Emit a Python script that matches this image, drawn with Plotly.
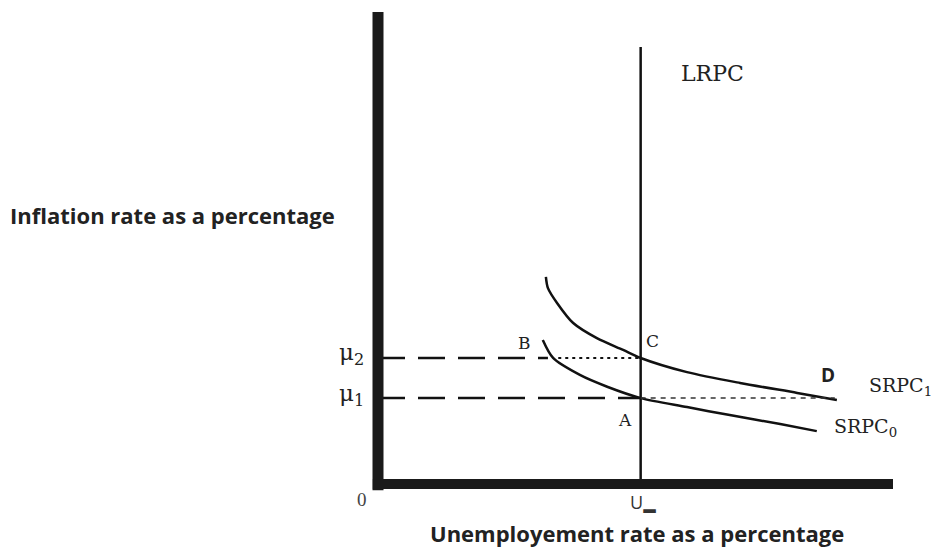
import plotly.graph_objects as go

# ---- data (diagram units: x, y in 0..100) ----
u_star = 51.0
mu1 = 18.2
mu2 = 26.7
lrpc_top = 92.6

srpc1_x = [32.6, 33.0, 34.8, 37.9, 42.5, 47.6, 51.0, 60.0, 70.3, 81.4, 89.1]
srpc1_y = [43.9, 41.5, 38.3, 34.1, 30.9, 28.4, 26.7, 23.7, 21.4, 19.3, 17.8]

srpc0_x = [32.0, 34.0, 39.2, 44.5, 51.0, 60.0, 68.3, 78.1, 85.2]
srpc0_y = [30.5, 26.7, 23.1, 20.6, 18.2, 16.3, 14.6, 12.7, 11.2]

mu2_dash_end = 33.0
mu2_dot_start = 35.0
mu1_dot_end = 88.7

L, R, T, B = 378, 44, 12, 64
W, H = 937, 548
PW, PH = W - L - R, H - T - B

def px(xp):
    return (xp - L) / PW

def py(yp):
    return (H - B - yp) / PH

fig = go.Figure()
black = "#111111"

# LRPC
fig.add_trace(go.Scatter(x=[u_star, u_star], y=[0, lrpc_top], mode="lines",
                         line=dict(color=black, width=2.5), hoverinfo="skip"))
# SRPC curves
fig.add_trace(go.Scatter(x=srpc1_x, y=srpc1_y, mode="lines", line_shape="spline",
                         line=dict(color=black, width=2.5, smoothing=0.8), hoverinfo="skip"))
fig.add_trace(go.Scatter(x=srpc0_x, y=srpc0_y, mode="lines", line_shape="spline",
                         line=dict(color=black, width=2.5, smoothing=0.8), hoverinfo="skip"))
# dashed guide lines
fig.add_trace(go.Scatter(x=[0, mu2_dash_end], y=[mu2, mu2], mode="lines",
                         line=dict(color=black, width=2.5, dash="27px,13px"), hoverinfo="skip"))
fig.add_trace(go.Scatter(x=[0, u_star], y=[mu1, mu1], mode="lines",
                         line=dict(color=black, width=2.5, dash="27px,13px"), hoverinfo="skip"))
# dotted guide lines
fig.add_trace(go.Scatter(x=[mu2_dot_start, u_star], y=[mu2, mu2], mode="lines",
                         line=dict(color=black, width=2, dash="3px,4px"), hoverinfo="skip"))
fig.add_trace(go.Scatter(x=[u_star, mu1_dot_end], y=[mu1, mu1], mode="lines",
                         line=dict(color="#333333", width=1.5, dash="5px,5px"), hoverinfo="skip"))

# thick axes
fig.add_shape(type="line", xref="paper", yref="paper", x0=0, x1=0, y0=-0.013, y1=1,
              line=dict(color="#1a1a1a", width=11))
fig.add_shape(type="line", xref="paper", yref="paper", x0=-0.01, x1=1, y0=0, y1=0,
              line=dict(color="#1a1a1a", width=10))

serif = "DejaVu Serif"
sans = "Open Sans"

def ann(x, y, text, size, family=serif, xanchor="center", yanchor="middle", color="#222222",
        ref="data"):
    kw = {}
    if ref == "paper":
        kw = dict(xref="paper", yref="paper")
    fig.add_annotation(x=x, y=y, text=text, showarrow=False, xanchor=xanchor, yanchor=yanchor,
                       font=dict(family=family, size=size, color=color), **kw)

ann(px(366), py(354), "μ<sub>2</sub>", 23, xanchor="right", ref="paper")
ann(px(366), py(395), "μ<sub>1</sub>", 23, xanchor="right", ref="paper")
ann(px(362), py(500), "0", 19, family="Liberation Serif", color="#444444", ref="paper")
ann(px(643), py(504), "U<sub>▬</sub>", 18, family=sans, color="#333333", ref="paper")
ann(64.9, 86.9, "LRPC", 22)
ann(53.3, 30.3, "C", 17)
ann(48.0, 13.6, "A", 17)
ann(28.5, 29.9, "B", 17)
ann(87.4, 23.1, "<b>D</b>", 19, family=sans, color="#222222")
ann(95.0, 20.6, "SRPC<sub>1</sub>", 19, xanchor="left")
ann(88.2, 12.0, "SRPC<sub>0</sub>", 19, xanchor="left")

ann(px(637), py(533), "<b>Unemployement rate as a percentage</b>", 22, family=sans, ref="paper")
ann(px(172), py(215), "<b>Inflation rate as a percentage</b>", 22, family=sans, ref="paper")

fig.update_layout(
    width=W, height=H,
    margin=dict(l=L, r=R, t=T, b=B),
    paper_bgcolor="white", plot_bgcolor="white",
    showlegend=False,
    xaxis=dict(range=[0, 100], visible=False, fixedrange=True),
    yaxis=dict(range=[0, 100], visible=False, fixedrange=True),
)

fig.write_html("out.html", config={"displayModeBar": False},
               post_script="document.body.style.margin='0px';")
